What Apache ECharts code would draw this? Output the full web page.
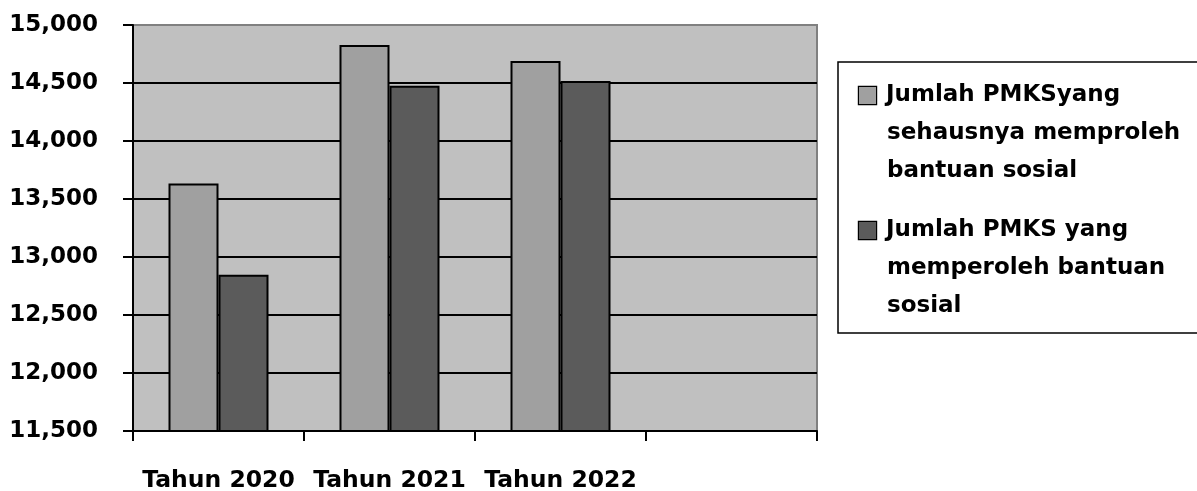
<!DOCTYPE html>
<html>
<head>
<meta charset="utf-8">
<script src="https://cdn.jsdelivr.net/npm/echarts@6/dist/echarts.min.js"></script>
<style>
  html, body { margin: 0; padding: 0; background: #ffffff; }
  #chart { width: 1197px; height: 491px; }
</style>
</head>
<body>
<div id="chart"></div>
<script>
// Kategori tahun (slot keempat sengaja kosong)
const categories = ['Tahun 2020', 'Tahun 2021', 'Tahun 2022', ''];

// Nama seri dan nilainya
const seriesNames = [
  'Jumlah PMKSyang sehausnya memproleh bantuan sosial',
  'Jumlah PMKS yang memperoleh bantuan sosial'
];
const seharusnya = [13634, 14827, 14689, null];
const memperoleh = [12846, 14476, 14517, null];

// Baris teks legenda
const legendLines = [
  ['Jumlah PMKSyang', 'sehausnya memproleh', 'bantuan sosial'],
  ['Jumlah PMKS yang', 'memperoleh bantuan', 'sosial']
];

// Skala sumbu Y
const yMin = 11500;
const yMax = 15000;
const yStep = 500;

const barColors = ['#a0a0a0', '#5b5b5b'];
const FONT = '"DejaVu Sans", sans-serif';

// Garis bantu hitam, kecuali garis teratas yang menyatu dengan tepi abu-abu area plot
const tickCount = Math.round((yMax - yMin) / yStep) + 1;
const splitColors = [];
for (let i = 0; i < tickCount; i++) {
  splitColors.push(i === tickCount - 1 ? '#808080' : '#000000');
}

const chart = echarts.init(document.getElementById('chart'), null, { renderer: 'canvas' });

chart.setOption({
  animation: false,
  backgroundColor: '#ffffff',
  grid: {
    left: 133,
    right: 380,
    top: 25,
    bottom: 60,
    show: true,
    backgroundColor: '#c0c0c0',
    borderColor: '#808080',
    borderWidth: 2,
    containLabel: false,
    outerBoundsMode: 'none'
  },
  legend: {
    orient: 'vertical',
    left: 838,
    top: 62,
    padding: [22, 80, 15, 16],
    itemGap: 36,
    itemWidth: 0,
    itemHeight: 0,
    selectedMode: false,
    backgroundColor: '#ffffff',
    borderColor: '#000000',
    borderWidth: 1.5,
    borderRadius: 0,
    itemStyle: { color: 'transparent', borderWidth: 0 },
    data: seriesNames,
    formatter: function (name) {
      const i = seriesNames.indexOf(name);
      const lines = legendLines[i];
      return lines.map(function (line, k) {
        return k === 0
          ? '{sq' + i + '|}{gap|}{t|' + line + '}'
          : '{ind|}{t|' + line + '}';
      }).join('\n');
    },
    textStyle: {
      rich: {
        sq0: { width: 17, height: 17, backgroundColor: barColors[0], borderColor: '#000', borderWidth: 1.2 },
        sq1: { width: 17, height: 17, backgroundColor: barColors[1], borderColor: '#000', borderWidth: 1.2 },
        gap: { width: 10 },
        ind: { width: 28 },
        t: { fontFamily: FONT, fontWeight: 'bold', fontSize: 23, lineHeight: 38, color: '#000000' }
      }
    }
  },
  xAxis: {
    type: 'category',
    data: categories,
    boundaryGap: true,
    axisLine: { show: true, lineStyle: { color: '#000000', width: 2 } },
    axisTick: { show: true, length: 10, inside: false, alignWithLabel: false, lineStyle: { color: '#000000', width: 2 } },
    axisLabel: {
      show: true,
      interval: 0,
      margin: 38,
      color: '#000000',
      fontFamily: FONT,
      fontWeight: 'bold',
      fontSize: 23.5
    },
    splitLine: { show: false }
  },
  yAxis: {
    type: 'value',
    min: yMin,
    max: yMax,
    interval: yStep,
    axisLine: { show: true, lineStyle: { color: '#000000', width: 2 } },
    axisTick: { show: true, length: 10, inside: false, lineStyle: { color: '#000000', width: 2 } },
    axisLabel: {
      margin: 35,
      padding: [5, 0, 0, 0],
      color: '#000000',
      fontFamily: FONT,
      fontWeight: 'bold',
      fontSize: 23,
      formatter: function (v) { return v.toLocaleString('en-US'); }
    },
    splitLine: { show: true, lineStyle: { color: splitColors, width: 2 } }
  },
  series: [
    {
      name: seriesNames[0],
      type: 'bar',
      data: seharusnya,
      barWidth: 50,
      barGap: '0%',
      itemStyle: { color: barColors[0], borderColor: '#000000', borderWidth: 2 },
      emphasis: { disabled: true }
    },
    {
      name: seriesNames[1],
      type: 'bar',
      data: memperoleh,
      barWidth: 50,
      barGap: '0%',
      itemStyle: { color: barColors[1], borderColor: '#000000', borderWidth: 2 },
      emphasis: { disabled: true }
    }
  ]
});
</script>
</body>
</html>
